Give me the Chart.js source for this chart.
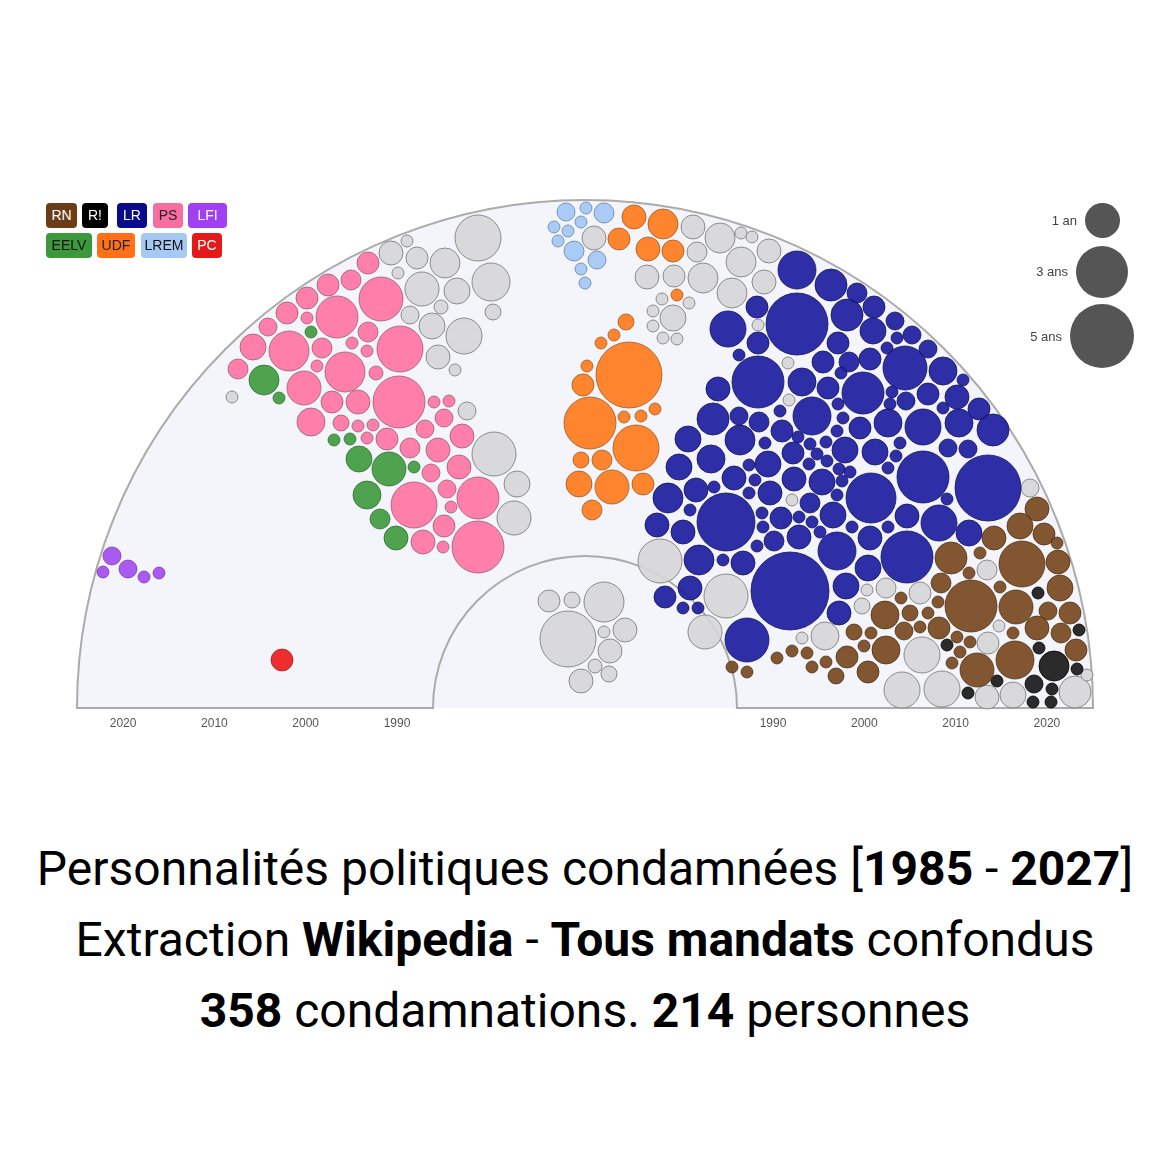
<!DOCTYPE html>
<html><head><meta charset="utf-8">
<script src="https://cdn.jsdelivr.net/npm/chart.js@4.4.1/dist/chart.umd.min.js"></script>
<style>
body{margin:0;background:#fff;width:1170px;height:1163px;position:relative;overflow:hidden;font-family:Roboto,sans-serif}
#c{position:absolute;left:0;top:0}
.badge{position:absolute;height:25px;border-radius:4px;text-align:center;font:14px "Liberation Sans",Arial,sans-serif;line-height:25px}
.sz{position:absolute;border-radius:50%;background:#555}
.szl{position:absolute;font:13px "Liberation Sans",Arial,sans-serif;line-height:16px;color:#444;text-align:right;width:60px}
#title{position:absolute;left:0;top:833px;width:1170px;text-align:center;font-size:48px;line-height:71px;color:#000;font-family:Roboto,sans-serif}
#title b{font-weight:700}
</style></head><body>
<canvas id="c" width="1170" height="760"></canvas>

<div class="badge" style="left:46px;top:203px;width:31px;background:#6B3D17;color:#fff">RN</div>
<div class="badge" style="left:82px;top:203px;width:26px;background:#000;color:#fff">R!</div>
<div class="badge" style="left:117px;top:203px;width:30px;background:#0A0A8A;color:#fff">LR</div>
<div class="badge" style="left:153px;top:203px;width:30px;background:#F66FA0;color:#222">PS</div>
<div class="badge" style="left:188px;top:203px;width:39px;background:#A040F2;color:#fff">LFI</div>
<div class="badge" style="left:46px;top:233px;width:46px;background:#3B993B;color:#111">EELV</div>
<div class="badge" style="left:97px;top:233px;width:38px;background:#FF7019;color:#222">UDF</div>
<div class="badge" style="left:141px;top:233px;width:46px;background:#A5C9F3;color:#111">LREM</div>
<div class="badge" style="left:192px;top:233px;width:30px;background:#E31A1A;color:#fff">PC</div>

<div class="sz" style="left:1085px;top:203px;width:35px;height:35px"></div>
<div class="szl" style="left:1017px;top:213px">1 an</div>
<div class="sz" style="left:1076px;top:246px;width:52px;height:52px"></div>
<div class="szl" style="left:1008px;top:264px">3 ans</div>
<div class="sz" style="left:1070px;top:304px;width:64px;height:64px"></div>
<div class="szl" style="left:1002px;top:329px">5 ans</div>

<div id="title">Personnalités politiques condamnées [<b>1985</b> - <b>2027</b>]<br>Extraction <b>Wikipedia</b> - <b>Tous mandats</b> confondus<br><b>358</b> condamnations. <b>214</b> personnes</div>

<script>
// ---- data: [x, y, r] per condemnation bubble, by party ----
const RN = [[1037,509,12],[1020,526,13],[1044,534,11],[994,538,12],[1057,543,6],[980,553,6],[951,558,16],[1022,564,23],[1058,562,12],[969,573,6],[941,583,10],[1060,588,13],[1000,587,6],[971,606,26],[1016,607,17],[901,598,6],[938,602,6],[885,615,14],[910,613,8],[928,613,6],[1048,611,9],[1070,613,11],[854,632,8],[871,633,6],[904,631,9],[920,627,6],[939,628,11],[957,637,6],[970,642,6],[1013,633,6],[1037,628,12],[1061,633,10],[864,646,6],[886,650,14],[1076,650,11],[847,657,11],[960,652,6],[1015,660,19],[977,670,17],[952,663,6],[868,672,11],[836,676,8],[777,658,6],[792,651,6],[807,653,6],[812,667,6],[826,662,6],[732,667,6],[747,672,6]];
const RX = [[1038,593,6],[1079,630,6],[947,645,6],[1039,648,6],[1054,666,15],[1077,669,6],[997,681,6],[1034,684,9],[1052,689,6],[968,693,6],[1033,702,6],[1051,702,6]];
const LR = [[797,270,19],[831,285,16],[857,293,10],[757,307,11],[797,324,31],[847,315,16],[874,307,11],[728,329,18],[895,321,9],[873,331,13],[912,335,9],[897,338,6],[758,343,11],[838,343,11],[887,348,6],[928,349,9],[739,355,6],[823,362,11],[849,362,10],[870,359,11],[905,368,22],[943,371,14],[758,382,26],[802,382,14],[841,373,6],[828,388,11],[863,393,21],[963,380,6],[892,392,6],[718,389,12],[928,394,11],[957,397,12],[906,401,9],[890,404,6],[838,404,6],[780,411,6],[812,416,19],[979,409,11],[943,408,6],[713,419,16],[739,416,9],[759,422,10],[843,418,6],[888,423,14],[923,427,18],[959,423,14],[993,430,16],[860,428,11],[782,431,11],[837,431,6],[740,440,15],
[688,439,13],[711,459,14],[679,467,13],[765,443,6],[798,437,6],[810,444,6],[826,442,6],[845,450,13],[875,452,13],[900,443,6],[948,448,9],[968,449,9],[896,456,6],[888,468,6],[923,477,26],[988,488,33],[827,461,6],[809,464,6],[817,454,6],[793,453,11],[768,464,13],[749,465,6],[839,469,6],[850,472,6],[842,481,6],[822,482,13],[794,479,12],[734,478,12],[755,480,6],[696,490,12],[668,498,15],[714,487,6],[770,493,12],[749,493,6],[871,498,25],[837,495,6],[947,499,6],[810,503,10],[690,510,6],[726,522,29],[762,513,6],[781,518,11],[799,517,6],[812,522,6],[833,515,13],[939,523,18],[907,516,12],[852,527,6],[888,527,6],[969,533,13],[657,525,12],[683,532,12],[820,532,6],[763,527,6],[774,541,10],[799,537,12],[757,546,6],[870,538,12],[837,551,19],[907,557,26],[699,560,15],[723,560,6],[743,563,12],[790,591,39],[868,568,13],[846,586,13],[690,588,12],[665,597,11],[683,608,6],[698,608,6],[839,613,12],[747,640,22]];
const PS = [[368,263,11],[351,280,10],[328,285,11],[381,299,22],[307,298,11],[287,313,11],[307,318,6],[337,317,21],[268,327,9],[368,332,10],[253,347,13],[289,351,20],[322,348,10],[352,343,6],[367,351,6],[400,349,23],[238,369,10],[317,366,6],[345,372,20],[376,373,7],[304,388,17],[399,402,26],[332,402,11],[358,402,12],[434,402,6],[449,401,6],[311,422,14],[341,423,8],[358,426,6],[373,425,6],[425,429,9],[444,418,9],[462,436,12],[367,438,6],[387,439,11],[410,448,10],[438,450,12],[459,467,12],[431,473,9],[447,489,9],[414,505,23],[478,498,21],[451,507,6],[444,526,11],[423,542,12],[443,547,6],[478,547,26]];
const LFI = [[112,556,9],[103,572,6],[128,569,9],[144,577,6],[159,573,6]];
const EELV = [[311,332,6],[264,380,15],[279,398,6],[334,440,6],[350,439,6],[359,459,13],[389,469,17],[414,467,6],[367,495,14],[380,519,10],[396,538,12]];
const UDF = [[634,217,12],[663,224,15],[619,239,11],[648,249,12],[673,251,11],[677,295,6],[626,322,8],[614,335,6],[601,343,6],[629,375,33],[587,366,6],[583,385,11],[590,423,26],[624,417,6],[641,416,6],[655,409,6],[636,448,23],[581,460,8],[602,460,10],[579,484,13],[612,487,17],[643,484,11],[592,510,10]];
const LREM = [[566,212,9],[586,208,6],[604,213,10],[554,227,6],[581,222,6],[568,231,6],[558,241,6],[574,251,10],[597,260,9],[581,269,6],[585,283,6]];
const PC = [[282,660,11]];
const OTHER = [[478,238,23],[407,241,6],[391,253,12],[417,258,11],[445,263,15],[398,273,6],[491,282,19],[422,289,17],[457,291,13],[441,307,7],[410,315,9],[493,312,8],[432,326,13],[464,336,18],[438,357,12],[455,370,6],[232,397,6],[467,411,9],[494,454,22],[517,484,13],[514,518,17],
[594,238,12],[693,227,12],[720,238,15],[741,233,6],[752,237,6],[769,251,12],[697,252,10],[741,262,15],[647,277,12],[674,276,11],[703,278,15],[732,293,15],[764,282,12],[662,299,6],[689,303,6],[653,311,6],[673,318,13],[653,326,6],[663,338,6],[677,339,6],[758,325,6],
[788,363,6],[789,400,6],[792,500,6],[660,561,22],[726,596,22],[705,632,17],[867,590,6],[862,606,8],[886,588,10],[920,593,11],[987,570,10],[999,626,6],[825,636,14],[802,638,6],[1030,488,9],
[922,655,18],[988,643,11],[902,690,18],[942,689,18],[987,697,12],[1013,695,13],[1075,692,16],[1087,675,6],
[549,601,11],[572,600,8],[604,602,20],[568,639,28],[604,632,6],[625,630,12],[610,651,12],[595,666,7],[609,674,8],[581,681,12]];

const tickYears = [2020, 2010, 2000, 1990, 1990, 2000, 2010, 2020];
const tickSide  = [-1, -1, -1, -1, 1, 1, 1, 1];

// ---- geometry of the hemicycle (data units) ----
const CX = 585, BASE_Y = 708, OUTER_R = 508, INNER_R = 152;
const R1990 = 188, PX_PER_YEAR = 9.13;
const yearRadius = y => R1990 + (y - 1990) * PX_PER_YEAR;

const toPts = arr => arr.map(([x, y, r]) => ({x, y, r}));
const series = [
  ['RN', RN, 'rgba(118,72,32,0.92)', 'rgba(70,40,15,0.7)'],
  ['R!', RX, 'rgba(25,25,25,0.92)', 'rgba(0,0,0,0.8)'],
  ['LR', LR, 'rgba(28,28,160,0.92)', 'rgba(20,20,90,0.8)'],
  ['PS', PS, 'rgba(255,120,165,0.95)', 'rgba(150,95,115,0.8)'],
  ['LFI', LFI, 'rgba(165,80,240,0.95)', 'rgba(110,50,160,0.7)'],
  ['EELV', EELV, 'rgba(70,158,70,0.95)', 'rgba(40,100,40,0.7)'],
  ['UDF', UDF, 'rgba(255,125,35,0.95)', 'rgba(160,90,40,0.8)'],
  ['LREM', LREM, 'rgba(165,200,245,0.95)', 'rgba(100,130,170,0.8)'],
  ['PC', PC, 'rgba(235,35,35,0.95)', 'rgba(150,30,30,0.7)'],
  ['Autres', OTHER, 'rgba(214,214,217,0.92)', 'rgba(130,130,130,0.9)']
];

const hemicycle = {
  id: 'hemicycle',
  beforeDatasetsDraw(chart) {
    const {ctx, scales: {x, y}} = chart;
    const cx = x.getPixelForValue(CX), cy = y.getPixelForValue(BASE_Y);
    const R = x.getPixelForValue(CX + OUTER_R) - cx;
    const r = x.getPixelForValue(CX + INNER_R) - cx;
    ctx.save();
    ctx.beginPath();
    ctx.arc(cx, cy, R, Math.PI, 2 * Math.PI);
    ctx.closePath();
    ctx.fillStyle = '#F4F5FA';
    ctx.fill();
    ctx.beginPath();
    ctx.moveTo(cx - R, cy);
    ctx.arc(cx, cy, R, Math.PI, 2 * Math.PI);
    ctx.lineTo(cx + r, cy);
    ctx.arc(cx, cy, r, 0, Math.PI, true);
    ctx.closePath();
    ctx.lineWidth = 2;
    ctx.strokeStyle = '#ABABAB';
    ctx.stroke();
    ctx.restore();
  }
};

new Chart(document.getElementById('c'), {
  type: 'bubble',
  data: {
    datasets: series.map(([label, arr, bg, bd]) => ({
      label, data: toPts(arr), backgroundColor: bg, borderColor: bd, borderWidth: 1, clip: false
    }))
  },
  options: {
    responsive: false,
    animation: false,
    events: [],
    layout: {padding: {left: 77, right: 77, top: 200, bottom: 22}},
    plugins: {legend: {display: false}, tooltip: {enabled: false}, title: {display: false}},
    scales: {
      x: {
        type: 'linear', min: CX - OUTER_R, max: CX + OUTER_R,
        grid: {display: false, drawTicks: false}, border: {display: false},
        afterBuildTicks: s => { s.ticks = tickYears.map((yr, i) => ({value: CX + tickSide[i] * yearRadius(yr)})); },
        afterFit: s => { s.height = 30; },
        ticks: {autoSkip: false, maxRotation: 0, padding: 8, color: '#555',
          font: {size: 12, family: '"Liberation Sans", Arial, sans-serif'},
          callback: (v, i) => String(tickYears[i])}
      },
      y: {type: 'linear', display: false, reverse: true, min: BASE_Y - OUTER_R, max: BASE_Y}
    }
  },
  plugins: [hemicycle]
});
</script>
</body></html>
